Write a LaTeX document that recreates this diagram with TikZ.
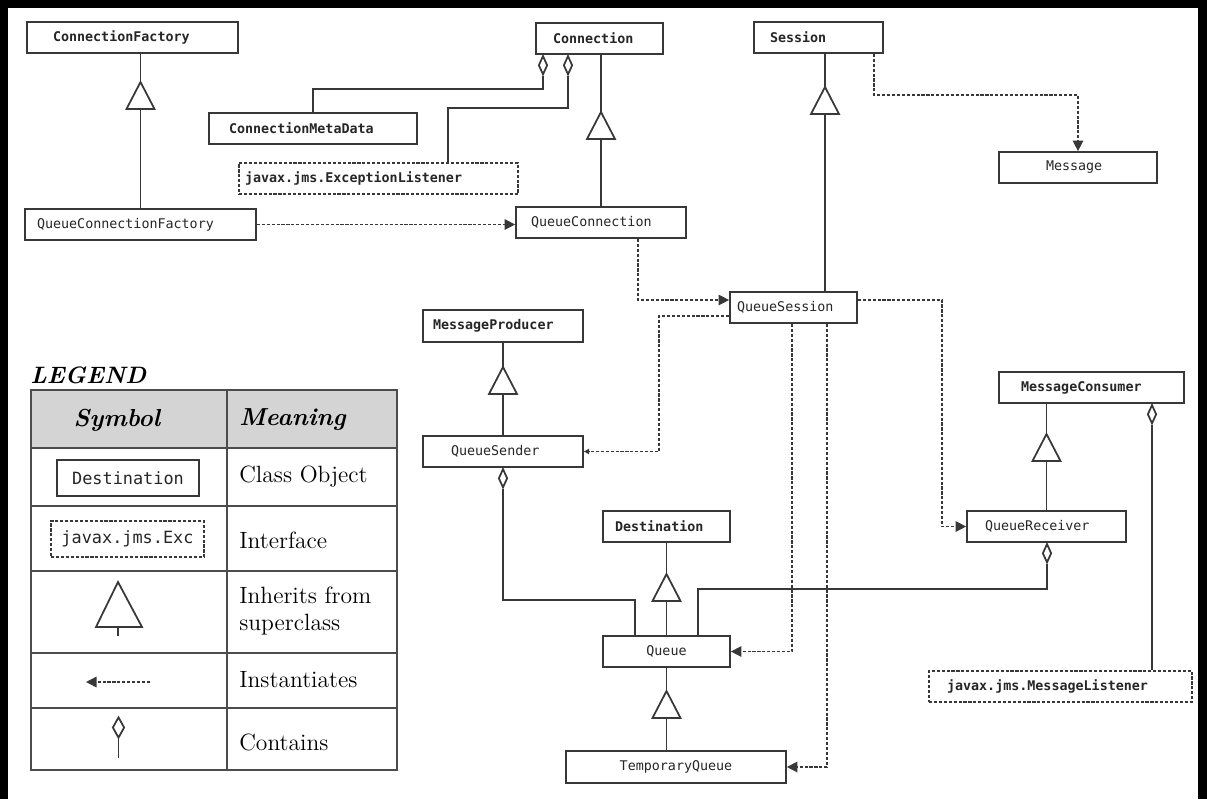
\documentclass[tikz,border=0pt]{standalone}
\usepackage{fontspec}
\setmonofont{DejaVu Sans Mono}
\usetikzlibrary{shapes.geometric,arrows.meta}
\definecolor{ln}{gray}{0.22}
\definecolor{hdr}{gray}{0.83}
\newcommand{\cname}{\ttfamily\fontsize{7.6}{9}\selectfont}
\newcommand{\legfont}{\fontsize{13.4}{15}\selectfont}
\tikzset{
  lk/.style={draw=ln, line width=1pt},
  cls/.style={lk, fill=white, inner ysep=0pt, minimum height=0.62cm, align=left, font=\cname, text=black!85},
  ifc/.style={cls, dash pattern=on 1.8pt off 1pt},
  bld/.style={font=\cname\bfseries},
  bx/.style 2 args={text width=#1, inner xsep=#2},
  agg/.style={diamond, lk, fill=white, inner sep=0pt, minimum width=0.18cm, minimum height=0.38cm},
  inst/.style={draw=ln, line width=0.8pt, dash pattern=on 1.8pt off 1pt, -{Triangle[length=6pt,width=6pt]}},
  inh/.pic={\draw[lk, fill=white] (0,0) -- (-14,27) -- (14,27) -- cycle;},
  hd/.style={font=\fontsize{14}{16}\selectfont\bfseries\itshape, inner sep=0pt},
  mn/.style={font=\legfont, anchor=west, inner sep=0pt, align=left}
}
\begin{document}
\begin{tikzpicture}[x=0.02cm, y=-0.02cm]
\useasboundingbox (0,0) rectangle (1207,799);
% frame
\fill (0,0) rectangle (8,799);
\fill (0,0) rectangle (1207,8);
\fill (1198,0) rectangle (1207,799);

% classes and interfaces
\node[cls, bld, bx={3.18cm}{0.52cm}] (cf) at (132.5,37.5) {ConnectionFactory};
\node[cls, bld, bx={1.86cm}{0.34cm}] (conn) at (599.5,38.5) {Connection};
\node[cls, bld, bx={1.94cm}{0.32cm}] (sess) at (818.5,37.5) {Session};
\node[cls, bld, bx={3.36cm}{0.40cm}] (cmd) at (313,128.5) {ConnectionMetaData};
\node[ifc, bld, bx={5.34cm}{0.12cm}] (exl) at (378.5,178.5) {javax.jms.ExceptionListener};
\node[cls, bx={1.28cm}{0.94cm}] (msg) at (1078,167.5) {Message};
\node[cls, bx={4.14cm}{0.24cm}] (qcf) at (140.5,224.5) {QueueConnectionFactory};
\node[cls, bx={2.80cm}{0.30cm}] (qc) at (601,222.5) {QueueConnection};
\node[cls, bx={2.26cm}{0.14cm}] (qs) at (793.5,307.5) {QueueSession};
\node[cls, bld, bx={2.80cm}{0.20cm}, minimum height=0.64cm] (mp) at (503,326) {MessageProducer};
\node[cls, bx={2.08cm}{0.56cm}] (qsend) at (503,451.5) {QueueSender};
\node[cls, bld, bx={2.82cm}{0.44cm}] (mc) at (1091.5,387.5) {MessageConsumer};
\node[cls, bx={2.46cm}{0.36cm}] (qr) at (1046.5,526.5) {QueueReceiver};
\node[cls, bld, bx={2.06cm}{0.24cm}] (dest) at (666.5,526.5) {Destination};
\node[cls, bx={2.54cm}{0pt}, align=center] (q) at (666.5,651.5) {Queue};
\node[cls, bx={4.40cm}{0pt}, align=center, minimum height=0.64cm] (tq) at (676,767) {TemporaryQueue};
\node[ifc, bld, bx={4.54cm}{0.36cm}] (ml) at (1060.5,686.5) {javax.jms.MessageListener};

% inheritance
\draw[lk] (qcf.north) -- (qcf.north |- cf.south);
\pic at (140.5,82) {inh};
\draw[lk] (qc.north) -- (qc.north |- conn.south);
\pic at (601,112) {inh};
\draw[lk] (qs.north -| 825,0) -- (sess.south -| 825,0);
\pic at (825,87) {inh};
\draw[lk] (qsend.north) -- (mp.south);
\pic at (503,367) {inh};
\draw[lk] (q.north) -- (dest.south);
\pic at (666.5,574) {inh};
\draw[lk] (tq.north -| q.south) -- (q.south);
\pic at (666.5,691) {inh};
\draw[lk] (qr.north) -- (qr.north |- mc.south);
\pic at (1046.5,434) {inh};

% contains
\node[agg, anchor=north] (d1) at (conn.south -| 543,0) {};
\node[agg, anchor=north] (d2) at (conn.south -| 568,0) {};
\node[agg, anchor=north] (d3) at (qsend.south) {};
\node[agg, anchor=north] (d4) at (qr.south -| 1047,0) {};
\node[agg, anchor=north] (d5) at (mc.south -| 1152,0) {};
\draw[lk] (cmd.north -| 313,0) -- (313,89) -| (d1.south);
\draw[lk] (exl.north -| 448,0) -- (448,108) -| (d2.south);
\draw[lk] (d3.south) -- (503,600) -| (q.north -| 635,0);
\draw[lk] (d4.south) -- (1047,589) -| (q.north -| 698,0);
\draw[lk] (d5.south) -- (ml.north -| d5.south);

% instantiates
\draw[inst] (qcf.east) -- (qc.west |- qcf.east);
\draw[inst] (sess.south -| 874,0) -- (874,95) -| (msg.north);
\draw[inst] (qc.south -| 638,0) |- (qs.west |- 0,300);
\draw[inst, -{Triangle[length=3pt,width=3pt]}] (qs.west |- 0,316) -| (659,451.5) -- (qsend.east);
\draw[inst] (qs.east |- 0,300) -| (942,0 |- qr.west) -- (qr.west);
\draw[inst] (qs.south -| 792,0) |- (q.east);
\draw[inst] (qs.south -| 827,0) |- (tq.east);

% legend
\node[hd, font=\fontsize{13.5}{15}\selectfont\bfseries\itshape, anchor=west] (leg) at (30,375) {LEGEND};
\fill[hdr] (31,390) rectangle (397,448);
\draw[gray!60!black, line width=0.6pt] (31,390) rectangle (397,770) (227,390) -- (227,770);
\foreach \y in {448,506,571,653,708}
  \draw[gray!60!black, line width=0.6pt] (31,\y) -- (397,\y);
\node[hd] (hsym) at (117,420) {Symbol};
\node[hd, anchor=west] (hmean) at (239,420) {Meaning};
\node[cls, minimum width=2.84cm, minimum height=0.72cm, align=center, font=\ttfamily\fontsize{9.6}{11}\selectfont] (lcls) at (128,478) {Destination};
\node[ifc, minimum width=3.06cm, minimum height=0.72cm, align=center, font=\ttfamily\fontsize{9.6}{11}\selectfont] (lifc) at (127.5,539) {javax.jms.Exc};
\draw[lk, fill=white] (118,582) -- (96,627) -- (142,627) -- cycle;
\draw[lk] (118,627) -- (118,636);
\draw[inst] (150,682) -- (86,682);
\node[agg, minimum width=0.24cm, minimum height=0.42cm] (ldia) at (118.5,727.5) {};
\draw[lk] (ldia.south) -- (118.5,758);
\node[mn] (m1) at (239,477) {Class Object};
\node[mn] (m2) at (239,540) {Interface};
\node[mn] (m3) at (239,611) {Inherits from\\superclass};
\node[mn] (m4) at (239,680) {Instantiates};
\node[mn] (m5) at (239,742) {Contains};
\end{tikzpicture}
\end{document}
